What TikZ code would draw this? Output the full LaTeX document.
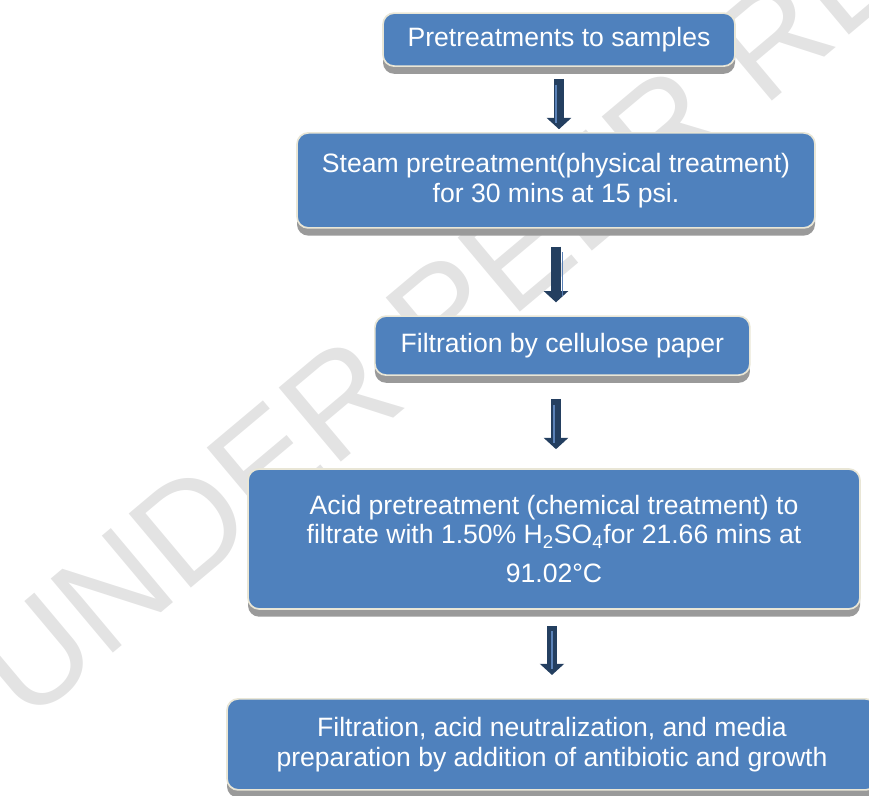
\documentclass[tikz,border=0pt]{standalone}
\usepackage{fontspec}
\setmainfont{Liberation Sans}
\usetikzlibrary{arrows.meta,shadows}

\definecolor{boxblue}{HTML}{4F81BD}
\definecolor{boxedge}{HTML}{E9E6D6}
\definecolor{shadowgray}{HTML}{9A9A9A}
\definecolor{arrownavy}{HTML}{243F60}
\definecolor{arrowhl}{HTML}{5B82B8}

\tikzset{
    stepbox/.style={rectangle, rounded corners=8pt, fill=boxblue, draw=boxedge,
        line width=1.2pt, text=white, align=center, inner sep=0pt,
        font=\fontsize{18.9}{21}\selectfont,
        general shadow={shadow xshift=0pt, shadow yshift=-5.5pt, fill=shadowgray}},
    flowarrow/.style 2 args={draw=arrownavy, line width=7.8pt,
        -{Triangle[width=17pt,length=8pt]}, shorten <=#1, shorten >=#2},
    watermark/.style={text=gray!22, rotate=40, inner sep=0pt,
        font=\fontsize{100}{100}\selectfont}
}

\begin{document}
\begin{tikzpicture}
        % Fix the page size
        \useasboundingbox (0,0) rectangle (21.725,-19.9);

        % Watermark behind everything
        \node[watermark] (wm) at (14.425,-5.05) {UNDER PEER REVIEW};

        % Draw the process steps
        \node[stepbox, minimum width=8.8cm, minimum height=1.325cm] (pre) at (13.975,-0.99)
            {Pretreatments to samples};
        \node[stepbox, minimum width=12.95cm, minimum height=2.375cm] (steam) at (13.9,-4.51)
            {Steam pretreatment(physical treatment)\\for 30 mins at 15 psi.};
        \node[stepbox, minimum width=9.375cm, minimum height=1.475cm] (filt) at (14.06,-8.64)
            {Filtration by cellulose paper};
        \node[stepbox, minimum width=15.3cm, minimum height=3.5cm] (acid) at (13.85,-13.475)
            {Acid pretreatment (chemical treatment) to\\filtrate with 1.50\% H\textsubscript{2}SO\textsubscript{4}for 21.66 mins at\\[7pt]91.02°C};
        \node[stepbox, minimum width=16.25cm, minimum height=2.275cm] (final) at (13.8,-18.61)
            {Filtration, acid neutralization, and media\\preparation by addition of antibiotic and growth};

        % Draw the arrows between the steps
        \draw[flowarrow={8.5pt}{2pt}] (pre.south) -- (pre.south |- steam.north);
        \draw[flowarrow={12.8pt}{9.2pt}] (steam.south) -- (steam.south |- filt.north);
        \draw[flowarrow={16.4pt}{13.5pt}] (filt.south -| steam.south) -- (steam.south |- acid.north);
        \draw[flowarrow={11.4pt}{16.4pt}] (acid.south -| final.north) -- (final.north);

        % Light line down the middle of each arrow
        \foreach \a/\b/\s/\e in {pre/steam/12.5/6.5, steam/filt/16.8/13.7, filt/acid/20.4/18, acid/final/15.4/20.9}
            \draw[arrowhl, line width=1.2pt, shorten <=\s pt, shorten >=\e pt]
                (\a.south -| \b.north) -- (\b.north);
    \end{tikzpicture}
\end{document}
